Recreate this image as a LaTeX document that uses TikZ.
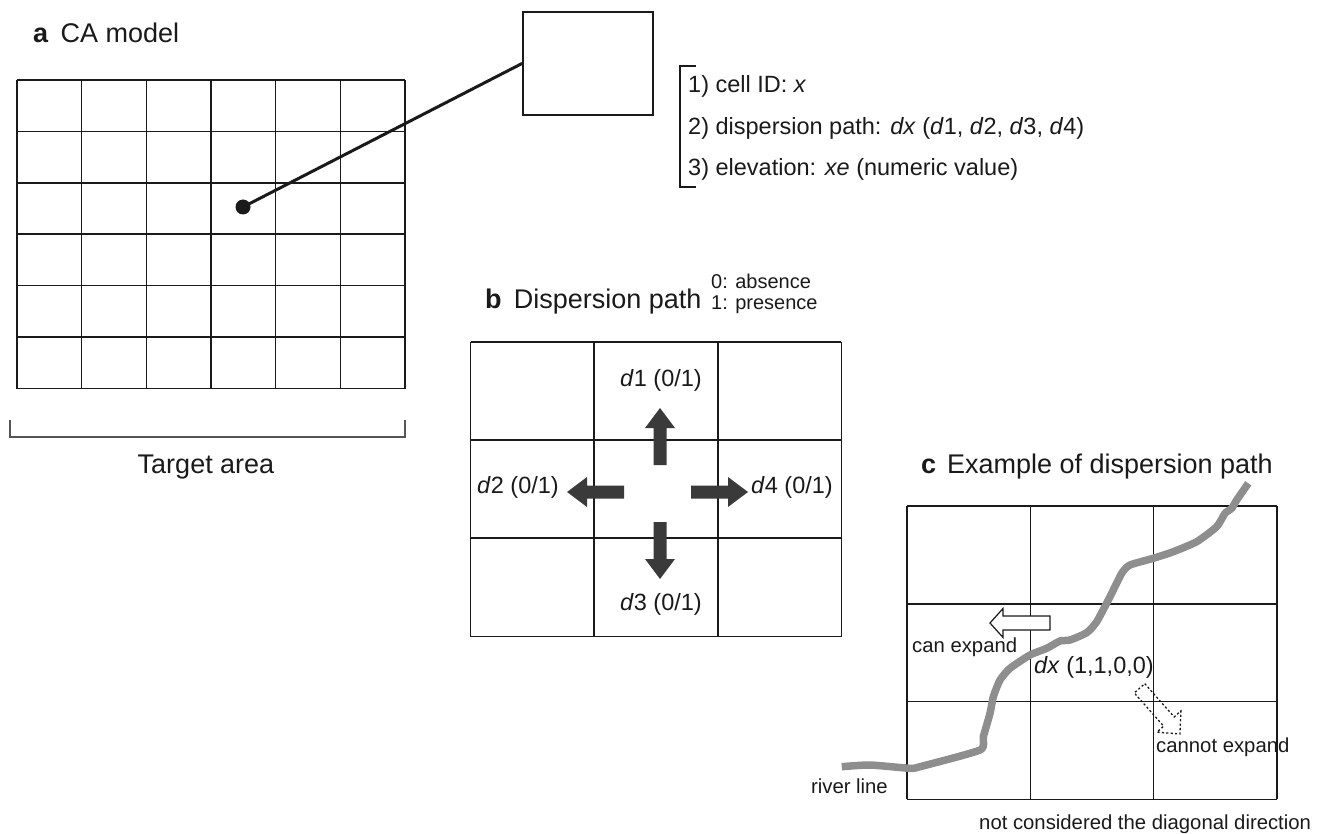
\documentclass[tikz,border=0pt]{standalone}
\usepackage{fontspec}
\setmainfont{Liberation Sans}
\definecolor{ink}{HTML}{1A1A1A}
\definecolor{arrowgray}{HTML}{3A3A3A}
\definecolor{rivergray}{HTML}{8E8E8E}
\definecolor{brk}{HTML}{555555}
\tikzset{
  gridline/.style={line width=1.6pt, draw=ink},
  body/.style={font=\fontsize{23.5}{28}\selectfont, inner sep=0pt, text=ink},
  small/.style={font=\fontsize{20.3}{24}\selectfont, inner sep=0pt, text=ink},
  legend/.style={font=\fontsize{20}{24}\selectfont, inner sep=0pt, text=ink},
  ttl/.style={font=\fontsize{27}{32}\selectfont, inner sep=0pt, text=ink},
  darkarrow/.pic={
    \fill[arrowgray] (0,-6.5) -- (37,-6.5) -- (37,-15) -- (57,0) -- (37,15) -- (37,6.5) -- (0,6.5) -- cycle;
  },
  openarrow/.pic={
    \filldraw[fill=white, draw=ink, line width=1.2pt, line join=miter] (0,-7) -- (47,-7) -- (47,-14.5) -- (60,0) -- (47,14.5) -- (47,7) -- (0,7) -- cycle;
  },
  dotarrow/.pic={
    \draw[draw=ink, line width=1.3pt, dash pattern=on 2.2pt off 2.2pt] (0,-7) -- (44.4,-7) -- (44.4,-16) -- (61,0) -- (44.4,16) -- (44.4,7) -- (0,7) -- cycle;
  },
}
\begin{document}
\begin{tikzpicture}[x=1pt,y=-1pt]
\useasboundingbox (0,0) rectangle (1324,834);

% ---------- panel a ----------
\node[ttl, anchor=base west] (ta) at (33,42.7) {\textbf{a}\hspace{0.45em}CA model};
\foreach \i in {0,...,6} {
  \draw[gridline] ({17+\i*64.67},80) -- ({17+\i*64.67},388.5);
  \draw[gridline] (17,{80+\i*51.42}) -- (405,{80+\i*51.42});
}
\node[draw=ink, line width=1.6pt, minimum width=130pt, minimum height=103pt, inner sep=0pt] (box) at (588,63.4) {};
\node[circle, fill=ink, minimum size=15pt, inner sep=0pt] (cell) at (243,207) {};
\draw[ink, line width=3pt] (cell.center) -- (box.west);

\draw[ink, line width=1.2pt] (696,66) -- (680,66) -- (680,187) -- (696,187);
\node[body, anchor=base west] (l1) at (688,93) {1) cell ID: \textit{x}};
\node[body, anchor=base west] (l2) at (688,135) {2) dispersion path: \textit{dx} (\textit{d}1, \textit{d}2, \textit{d}3, \textit{d}4)};
\node[body, anchor=base west] (l3) at (688,176) {3) elevation: \textit{xe} (numeric value)};

\draw[brk, line width=1.3pt] (10,420) -- (10,437) -- (405,437) -- (405,420);
\node[ttl, anchor=base] (tgt) at (206,473) {Target area};

% ---------- panel b ----------
\node[ttl, anchor=base west] (tb) at (485,308) {\textbf{b}\hspace{0.45em}Dispersion path};
\node[legend, anchor=base west] (abs) at (711,288) {0: absence};
\node[legend, anchor=base west] (pres) at (711,309) {1: presence};
\foreach \i in {0,...,3} {
  \draw[gridline] ({470.5+\i*123.6},341.7) -- ({470.5+\i*123.6},636.5);
  \draw[gridline] (470.5,{341.7+\i*98.27}) -- (841.3,{341.7+\i*98.27});
}
\pic[rotate=90] at (660,465) {darkarrow};
\pic[rotate=180] at (624,492) {darkarrow};
\pic at (691,492) {darkarrow};
\pic[rotate=-90] at (660,522) {darkarrow};
\node[body, anchor=base] (d1) at (661,386) {\textit{d}1 (0/1)};
\node[body, anchor=base west] (d2) at (477,493) {\textit{d}2 (0/1)};
\node[body, anchor=base west] (d4) at (751,493) {\textit{d}4 (0/1)};
\node[body, anchor=base] (d3) at (661,610) {\textit{d}3 (0/1)};

% ---------- panel c ----------
\node[ttl, anchor=base west] (tc) at (921,473) {\textbf{c}\hspace{0.4em}Example of dispersion path};
\foreach \i in {0,...,3} {
  \draw[gridline] ({907+\i*123.3},506) -- ({907+\i*123.3},799.3);
  \draw[gridline] (907,{506+\i*97.77}) -- (1277,{506+\i*97.77});
}
\draw[rivergray, line width=7.5pt, line join=round, line cap=butt]
  plot[smooth, tension=0.35] coordinates {
  (841.7,766.7) (870,765) (910,768.3) (920,766.7) (980,750) (983.3,736.7)
  (990,713.3) (993.3,696.7) (1000,680) (1010,668.3) (1030,655) (1046.7,648.3)
  (1060,641) (1070,640) (1086.7,632.7) (1096.7,621.7) (1110,596.7) (1121.7,573.3)
  (1130,565) (1153.3,558.3) (1173.3,551.7) (1196.7,541.7) (1216.7,526.7)
  (1225,513.3) (1231.7,508.3) (1236.7,500) (1248.3,483.3)};
\pic[rotate=180] at (1050,623) {openarrow};
\pic[rotate=-48.5] at (1139.5,688.3) {dotarrow};
\node[small, anchor=base west] (can) at (912,652) {can expand};
\node[body, anchor=base west] (dx) at (1034,673) {\textit{dx} (1,1,0,0)};
\node[small, anchor=base west] (cannot) at (1156,752) {cannot expand};
\node[small, anchor=base east] (river) at (888,793) {river line};
\node[small, anchor=base west] (note) at (979,829) {not considered the diagonal direction};
\end{tikzpicture}
\end{document}
